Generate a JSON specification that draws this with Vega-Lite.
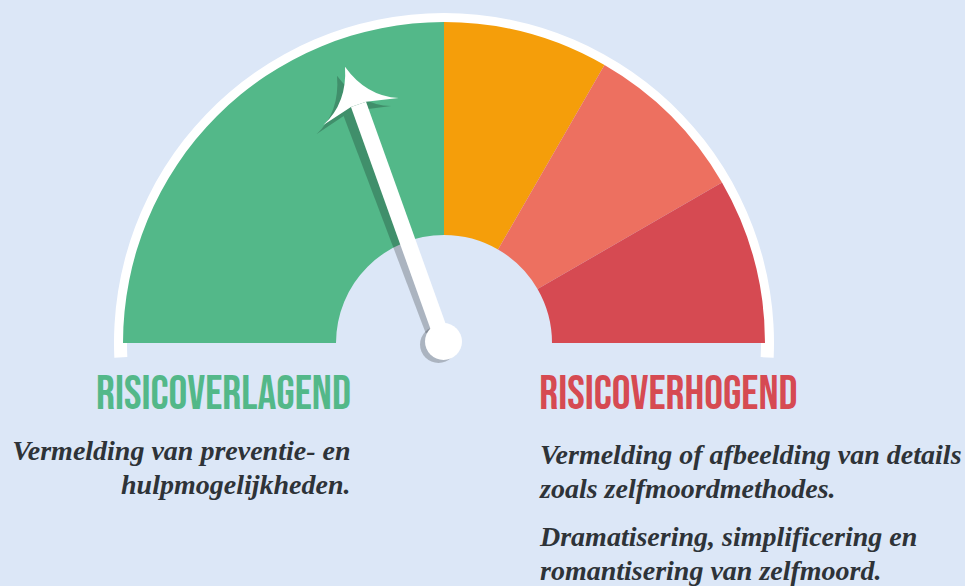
{
  "$schema": "https://vega.github.io/schema/vega-lite/v6.json",
  "width": 965,
  "height": 586,
  "autosize": {"type": "fit", "contains": "padding"},
  "padding": 0,
  "background": "#dce7f7",
  "config": {"view": {"stroke": null}},
  "datasets": {
    "ring": [{"start": -0.085, "end": 6.085}],
    "zones": [
      {"zone": "laag", "start": 0, "end": 3},
      {"zone": "matig", "start": 3, "end": 4},
      {"zone": "hoog", "start": 4, "end": 5},
      {"zone": "zeer hoog", "start": 5, "end": 6}
    ],
    "needle": [
      {"part": "schaduw", "px": -10.8, "py": 12.5, "jx": -92.9, "jy": 229.9, "tx": -107, "ty": 267.3, "cx": -5.5, "cy": -1.5, "angle": -20.7},
      {"part": "naald", "px": -0.5, "py": 1.5, "jx": -85.5, "jy": 238.6, "tx": -99, "ty": 276.3, "cx": -0.5, "cy": 1.5, "angle": -19.7}
    ],
    "titleLow": [{"label": "RISICOVERLAGEND", "x": -220.5, "y": -66.3}],
    "titleHigh": [{"label": "RISICOVERHOGEND", "x": 224.4, "y": -66.3}],
    "textLow": [{"text": "Vermelding van preventie- en\nhulpmogelijkheden.", "x": -93.5, "y": -117}],
    "textHigh": [
      {"text": "Vermelding of afbeelding van details\nzoals zelfmoordmethodes.", "x": 96, "y": -120.5},
      {"text": "Dramatisering, simplificering en\nromantisering van zelfmoord.", "x": 96, "y": -203}
    ]
  },
  "layer": [
    {
      "data": {"name": "ring"},
      "mark": {"type": "arc", "radius": 330, "radius2": 317, "color": "#ffffff"},
      "encoding": {
        "x": {"datum": 0, "type": "quantitative", "scale": {"domain": [-444, 521], "nice": false, "zero": false}, "axis": null},
        "y": {"datum": 0, "type": "quantitative", "scale": {"domain": [-243, 343], "nice": false, "zero": false}, "axis": null},
        "theta": {"field": "start", "type": "quantitative", "stack": null, "scale": {"domain": [0, 6], "range": [-1.5707963267948966, 1.5707963267948966]}},
        "theta2": {"field": "end"}
      }
    },
    {
      "data": {"name": "zones"},
      "mark": {"type": "arc", "radius": 321, "radius2": 108},
      "encoding": {
        "x": {"datum": 0, "type": "quantitative", "scale": {"domain": [-444, 521], "nice": false, "zero": false}, "axis": null},
        "y": {"datum": 0, "type": "quantitative", "scale": {"domain": [-243, 343], "nice": false, "zero": false}, "axis": null},
        "theta": {"field": "start", "type": "quantitative", "stack": null, "scale": {"domain": [0, 6], "range": [-1.5707963267948966, 1.5707963267948966]}},
        "theta2": {"field": "end"},
        "color": {"field": "zone", "type": "nominal", "scale": {"domain": ["laag", "matig", "hoog", "zeer hoog"], "range": ["#53b889", "#f59e0a", "#ed7060", "#d64a52"]}, "legend": null}
      }
    },
    {
      "data": {"name": "needle"},
      "transform": [{"filter": "datum.part == 'schaduw'"}],
      "layer": [
        {
          "mark": {"type": "rule", "strokeWidth": 16, "strokeCap": "butt", "color": "#000000", "opacity": 0.22},
          "encoding": {
            "x": {"field": "px", "type": "quantitative", "scale": {"domain": [-444, 521], "nice": false, "zero": false}, "axis": null},
            "y": {"field": "py", "type": "quantitative", "scale": {"domain": [-243, 343], "nice": false, "zero": false}, "axis": null},
            "x2": {"field": "jx"},
            "y2": {"field": "jy"}
          }
        },
        {
          "mark": {"type": "point", "filled": true, "shape": "M0,0 Q0.25,0.875 1,1.19 L0.2,1 L-0.2,1 L-1,1.19 Q-0.25,0.875 0,0 Z", "size": 6400, "color": "#000000", "opacity": 0.22, "strokeWidth": 0},
          "encoding": {
            "x": {"field": "tx", "type": "quantitative", "scale": {"domain": [-444, 521], "nice": false, "zero": false}, "axis": null},
            "y": {"field": "ty", "type": "quantitative", "scale": {"domain": [-243, 343], "nice": false, "zero": false}, "axis": null},
            "angle": {"field": "angle", "type": "quantitative", "scale": null}
          }
        },
        {
          "mark": {"type": "point", "filled": true, "shape": "circle", "size": 1369, "color": "#000000", "opacity": 0.22, "strokeWidth": 0},
          "encoding": {
            "x": {"field": "cx", "type": "quantitative", "scale": {"domain": [-444, 521], "nice": false, "zero": false}, "axis": null},
            "y": {"field": "cy", "type": "quantitative", "scale": {"domain": [-243, 343], "nice": false, "zero": false}, "axis": null}
          }
        }
      ]
    },
    {
      "data": {"name": "needle"},
      "transform": [{"filter": "datum.part == 'naald'"}],
      "layer": [
        {
          "mark": {"type": "rule", "strokeWidth": 16, "strokeCap": "butt", "color": "#ffffff"},
          "encoding": {
            "x": {"field": "px", "type": "quantitative", "scale": {"domain": [-444, 521], "nice": false, "zero": false}, "axis": null},
            "y": {"field": "py", "type": "quantitative", "scale": {"domain": [-243, 343], "nice": false, "zero": false}, "axis": null},
            "x2": {"field": "jx"},
            "y2": {"field": "jy"}
          }
        },
        {
          "mark": {"type": "point", "filled": true, "shape": "M0,0 Q0.25,0.875 1,1.19 L0.2,1 L-0.2,1 L-1,1.19 Q-0.25,0.875 0,0 Z", "size": 6400, "color": "#ffffff", "opacity": 1, "strokeWidth": 0},
          "encoding": {
            "x": {"field": "tx", "type": "quantitative", "scale": {"domain": [-444, 521], "nice": false, "zero": false}, "axis": null},
            "y": {"field": "ty", "type": "quantitative", "scale": {"domain": [-243, 343], "nice": false, "zero": false}, "axis": null},
            "angle": {"field": "angle", "type": "quantitative", "scale": null}
          }
        },
        {
          "mark": {"type": "point", "filled": true, "shape": "circle", "size": 1369, "color": "#ffffff", "opacity": 1, "strokeWidth": 0},
          "encoding": {
            "x": {"field": "cx", "type": "quantitative", "scale": {"domain": [-444, 521], "nice": false, "zero": false}, "axis": null},
            "y": {"field": "cy", "type": "quantitative", "scale": {"domain": [-243, 343], "nice": false, "zero": false}, "axis": null}
          }
        }
      ]
    },
    {
      "data": {"name": "titleLow"},
      "mark": {"type": "text", "align": "center", "baseline": "alphabetic", "font": "Bebas Neue, Oswald, Roboto Condensed, Open Sans Condensed, Liberation Sans Narrow, DejaVu Sans Condensed, sans-serif", "fontWeight": "normal", "fontSize": 47, "color": "#53b889"},
      "encoding": {
        "x": {"field": "x", "type": "quantitative", "scale": {"domain": [-444, 521], "nice": false, "zero": false}, "axis": null},
        "y": {"field": "y", "type": "quantitative", "scale": {"domain": [-243, 343], "nice": false, "zero": false}, "axis": null},
        "text": {"field": "label"}
      }
    },
    {
      "data": {"name": "titleHigh"},
      "mark": {"type": "text", "align": "center", "baseline": "alphabetic", "font": "Bebas Neue, Oswald, Roboto Condensed, Open Sans Condensed, Liberation Sans Narrow, DejaVu Sans Condensed, sans-serif", "fontWeight": "normal", "fontSize": 47, "color": "#d64a52"},
      "encoding": {
        "x": {"field": "x", "type": "quantitative", "scale": {"domain": [-444, 521], "nice": false, "zero": false}, "axis": null},
        "y": {"field": "y", "type": "quantitative", "scale": {"domain": [-243, 343], "nice": false, "zero": false}, "axis": null},
        "text": {"field": "label"}
      }
    },
    {
      "data": {"name": "textLow"},
      "mark": {"type": "text", "align": "right", "baseline": "alphabetic", "lineBreak": "\n", "lineHeight": 34, "font": "Liberation Serif, serif", "fontStyle": "italic", "fontWeight": "bold", "fontSize": 28, "color": "#2e3338"},
      "encoding": {
        "x": {"field": "x", "type": "quantitative", "scale": {"domain": [-444, 521], "nice": false, "zero": false}, "axis": null},
        "y": {"field": "y", "type": "quantitative", "scale": {"domain": [-243, 343], "nice": false, "zero": false}, "axis": null},
        "text": {"field": "text"}
      }
    },
    {
      "data": {"name": "textHigh"},
      "mark": {"type": "text", "align": "left", "baseline": "alphabetic", "lineBreak": "\n", "lineHeight": 34, "font": "Liberation Serif, serif", "fontStyle": "italic", "fontWeight": "bold", "fontSize": 28, "color": "#2e3338"},
      "encoding": {
        "x": {"field": "x", "type": "quantitative", "scale": {"domain": [-444, 521], "nice": false, "zero": false}, "axis": null},
        "y": {"field": "y", "type": "quantitative", "scale": {"domain": [-243, 343], "nice": false, "zero": false}, "axis": null},
        "text": {"field": "text"}
      }
    }
  ]
}
